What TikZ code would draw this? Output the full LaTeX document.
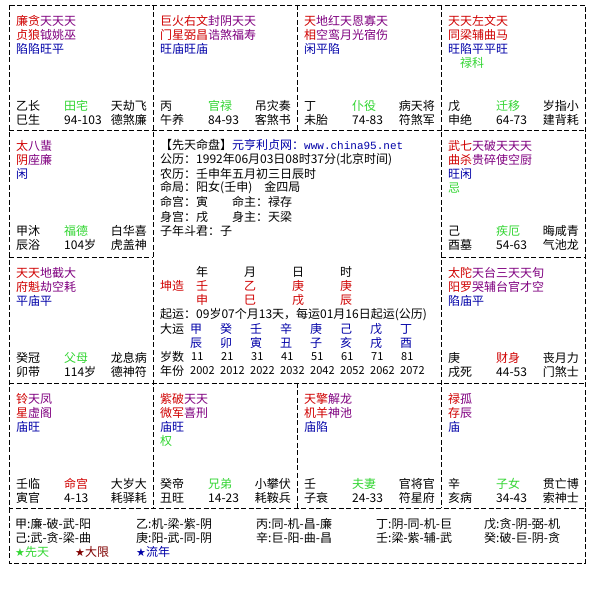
\documentclass[tikz,border=0pt]{standalone}
\usepackage{fontspec}
\setmainfont{Noto Sans CJK SC}
\newfontfamily\monof{Liberation Mono}
\newfontfamily\symf{DejaVu Sans}
\definecolor{cr}{HTML}{D00000}
\definecolor{cp}{HTML}{800080}
\definecolor{cb}{HTML}{0000A8}
\definecolor{cg}{HTML}{33D633}
\definecolor{cdr}{HTML}{800000}
\newcommand{\R}[1]{\textcolor{cr}{#1}}
\newcommand{\Pu}[1]{\textcolor{cp}{#1}}
\newcommand{\starsq}[6]{%
  \node[tx] at (#1+7,#2+16) {\R{#3}};
  \node[tx] at (#1+7,#2+30) {#4};
  \node[tx,text=cb] at (#1+7,#2+44) {#5};
  \node[tx,text=cg] at (#1+7,#2+58) {#6};}
\newcommand{\botq}[9]{%
  \node[tx] at (#1+7,#2+101) {#3};
  \node[tx] at (#1+7,#2+115) {#4};
  \node[tx,text=#6] at (#1+55,#2+101) {#5};
  \node[tx] at (#1+55,#2+115) {#7};
  \node[txe] at (#1+138,#2+101) {#8};
  \node[txe] at (#1+138,#2+115) {#9};}
\begin{document}
\begin{tikzpicture}[x=1pt,y=-1pt,
  tx/.style={anchor=west,inner sep=0pt,font=\fontsize{12}{12}\selectfont},
  txe/.style={anchor=east,inner sep=0pt,font=\fontsize{12}{12}\selectfont},
  grid/.style={line width=0.9pt,dash pattern=on 5pt off 2.5pt}]
\useasboundingbox (0,0) rectangle (616,601);
\fill[white] (0,0) rectangle (616,601);
% grid
\draw[grid] (9,5) rectangle (585,508);
\draw[grid] (9,130) -- (585,130);
\draw[grid] (9,383) -- (585,383);
\draw[grid] (9,257) -- (153,257);
\draw[grid] (441,257) -- (585,257);
\draw[grid] (153,5) -- (153,508);
\draw[grid] (441,5) -- (441,508);
\draw[grid] (297,5) -- (297,130);
\draw[grid] (297,383) -- (297,508);
\draw[grid] (9,508) -- (9,563) -- (585,563) -- (585,508);
% palaces
\starsq{9}{5}{廉贪\Pu{天天天}}{\R{贞狼}\Pu{钺姚巫}}{陷陷旺平}{}
\botq{9}{5}{乙长}{巳生}{田宅}{cg}{94-103}{天劫飞}{德煞廉}
\starsq{153}{5}{巨火右文\Pu{封阴天天}}{\R{门星弼昌}\Pu{诰煞福寿}}{旺庙旺庙}{}
\botq{153}{5}{丙}{午养}{官禄}{cg}{84-93}{吊灾奏}{客煞书}
\starsq{297}{5}{天\Pu{地红天恩寡天}}{\R{相}\Pu{空鸾月光宿伤}}{闲平陷}{}
\botq{297}{5}{丁}{未胎}{仆役}{cg}{74-83}{病天将}{符煞军}
\starsq{441}{5}{天天左文天}{\R{同梁辅曲马}}{旺陷平平旺}{\phantom{天}禄科}
\botq{441}{5}{戊}{申绝}{迁移}{cg}{64-73}{岁指小}{建背耗}
\starsq{9}{130}{太\Pu{八蜚}}{\R{阴}\Pu{座廉}}{闲}{}
\botq{9}{130}{甲沐}{辰浴}{福德}{cg}{104岁}{白华喜}{虎盖神}
\starsq{441}{130}{武七\Pu{天破天天天}}{\R{曲杀}\Pu{贵碎使空厨}}{旺闲}{忌}
\botq{441}{130}{己}{酉墓}{疾厄}{cg}{54-63}{晦咸青}{气池龙}
\starsq{9}{257}{天天\Pu{地截大}}{\R{府魁}\Pu{劫空耗}}{平庙平}{}
\botq{9}{257}{癸冠}{卯带}{父母}{cg}{114岁}{龙息病}{德神符}
\starsq{441}{257}{太陀\Pu{天台三天天旬}}{\R{阳罗}\Pu{哭辅台官才空}}{陷庙平}{}
\botq{441}{257}{庚}{戌死}{财身}{cr}{44-53}{丧月力}{门煞士}
\starsq{9}{383}{铃\Pu{天凤}}{\R{星}\Pu{虚阁}}{庙旺}{}
\botq{9}{383}{壬临}{寅官}{命宫}{cr}{4-13}{大岁大}{耗驿耗}
\starsq{153}{383}{紫破\Pu{天天}}{\R{微军}\Pu{喜刑}}{庙旺}{权}
\botq{153}{383}{癸帝}{丑旺}{兄弟}{cg}{14-23}{小攀伏}{耗鞍兵}
\starsq{297}{383}{天擎\Pu{解龙}}{\R{机羊}\Pu{神池}}{庙陷}{}
\botq{297}{383}{壬}{子衰}{夫妻}{cg}{24-33}{官将官}{符星府}
\starsq{441}{383}{禄\Pu{孤}}{\R{存}\Pu{辰}}{庙}{}
\botq{441}{383}{辛}{亥病}{子女}{cg}{34-43}{贯亡博}{索神士}
% center top
\node[tx] (t1) at (160,145) {【先天命盘】\textcolor{cb}{元亨利贞网：{\monof\fontsize{11}{11}\selectfont www.china95.net}}};
\node[tx] (t2) at (160,160) {公历：1992年06月03日08时37分(北京时间)};
\node[tx] (t3) at (160,174) {农历：壬申年五月初三日辰时};
\node[tx] (t4) at (160,188) {命局：阳女(壬申)\quad 金四局};
\node[tx] (t5) at (160,202) {命宫：寅};
\node[tx] (t5b) at (232,202) {命主：禄存};
\node[tx] (t6) at (160,217) {身宫：戌};
\node[tx] (t6b) at (232,217) {身主：天梁};
\node[tx] (t7) at (160,231) {子年斗君：子};
% center bottom
\foreach \t [count=\i from 0] in {年,月,日,时} {\node[tx] at (196+48*\i,272) {\t};}
\node[tx,text=cr] (kz) at (160,286) {坤造};
\foreach \t [count=\i from 0] in {壬,乙,庚,庚} {\node[tx,text=cr] at (196+48*\i,286) {\t};}
\foreach \t [count=\i from 0] in {申,巳,戌,辰} {\node[tx,text=cr] at (196+48*\i,300) {\t};}
\node[tx] (qy) at (160,315) {起运：09岁07个月13天，每运01月16日起运(公历)};
\node[tx] (dy) at (160,329) {大运};
\foreach \t [count=\i from 0] in {甲,癸,壬,辛,庚,己,戊,丁} {\node[tx,text=cb] at (190+30*\i,329) {\t};}
\foreach \t [count=\i from 0] in {辰,卯,寅,丑,子,亥,戌,酉} {\node[tx,text=cb] at (190+30*\i,343) {\t};}
\node[tx] (ss) at (160,357) {岁数};
\foreach \t [count=\i from 0] in {11,21,31,41,51,61,71,81} {\node[tx,font=\fontsize{11}{11}\selectfont] at (191+30*\i,357) {\t};}
\node[tx] (nf) at (160,371) {年份};
\foreach \t [count=\i from 0] in {2002,2012,2022,2032,2042,2052,2062,2072} {\node[tx,font=\fontsize{11}{11}\selectfont] at (190+30*\i,371) {\t};}
% legend
\node[tx] (l1) at (15,524) {甲:廉-破-武-阳};
\node[tx] (l2) at (136,524) {乙:机-梁-紫-阴};
\node[tx] (l3) at (256,524) {丙:同-机-昌-廉};
\node[tx] (l4) at (376,524) {丁:阴-同-机-巨};
\node[tx] (l5) at (484,524) {戊:贪-阴-弼-机};
\node[tx] (l6) at (15,538) {己:武-贪-梁-曲};
\node[tx] (l7) at (136,538) {庚:阳-武-同-阴};
\node[tx] (l8) at (256,538) {辛:巨-阳-曲-昌};
\node[tx] (l9) at (376,538) {壬:梁-紫-辅-武};
\node[tx] (l10) at (484,538) {癸:破-巨-阴-贪};
\node[tx,text=cg] (s1) at (15,552) {{\symf\fontsize{11}{11}\selectfont★}先天};
\node[tx,text=cdr] (s2) at (75,552) {{\symf\fontsize{11}{11}\selectfont★}大限};
\node[tx,text=cb] (s3) at (136,552) {{\symf\fontsize{11}{11}\selectfont★}流年};
\end{tikzpicture}
\end{document}
